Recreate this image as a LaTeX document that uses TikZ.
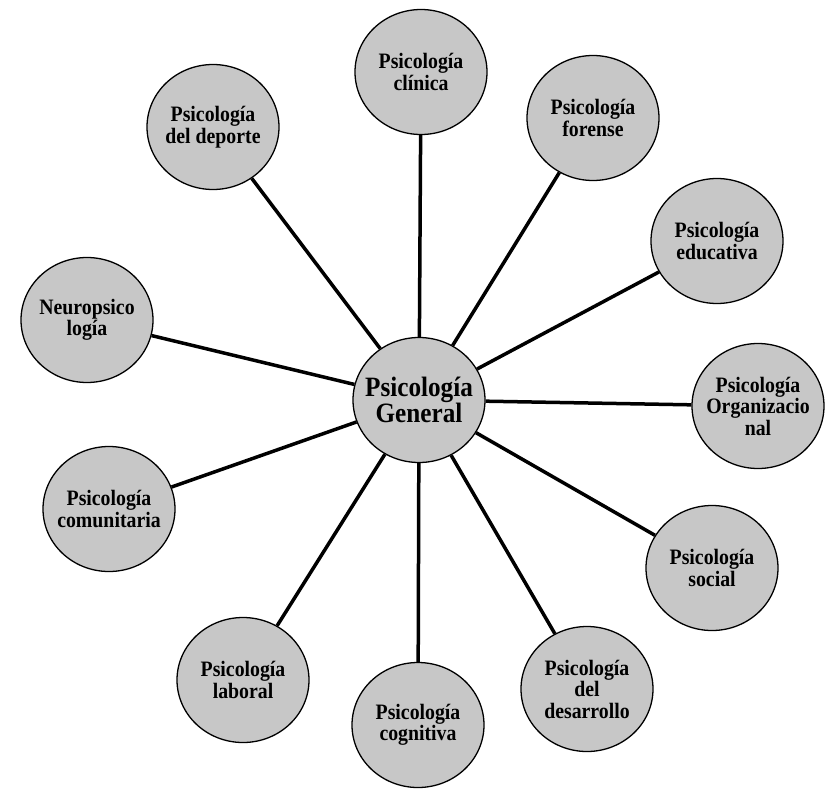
\documentclass[tikz,border=0pt]{standalone}
\usepackage{fontspec}
\setmainfont{Liberation Serif}[FakeStretch=0.9]
\usetikzlibrary{shapes.geometric}

\begin{document}
\begin{tikzpicture}[x=1pt, y=-1pt,
  rama/.style={ellipse, draw, line width=1.3pt, fill=black!22,
    minimum width=132pt, minimum height=125pt, inner sep=-15pt,
    align=center, font=\bfseries\fontsize{22}{21.5}\selectfont},
  centro/.style={rama, font=\bfseries\fontsize{28}{25}\selectfont},
  rayo/.style={line width=3.5pt}]
\useasboundingbox (0,0) rectangle (828,788);

\node[centro] (gen) at (419,400) {Psicología\\General};

\node[rama] (cli) at (421,72) {Psicología\\clínica};
\node[rama] (for) at (593,118) {Psicología\\forense};
\node[rama] (edu) at (717,241) {Psicología\\educativa};
\node[rama] (org) at (758,406) {Psicología\\Organizacio\\nal};
\node[rama] (soc) at (712,568) {Psicología\\social};
\node[rama] (des) at (587,689) {Psicología\\del\\desarrollo};
\node[rama] (cog) at (418,725) {Psicología\\cognitiva};
\node[rama] (lab) at (243,680) {Psicología\\laboral};
\node[rama] (com) at (109,509) {Psicología\\comunitaria};
\node[rama] (neu) at (87,320) {Neuropsico\\logía};
\node[rama] (dep) at (213,127) {Psicología\\del deporte};

\path[rayo]
  (gen) edge (cli)
  (gen) edge (for)
  (gen) edge (edu)
  (gen) edge (org)
  (gen) edge (soc)
  (gen) edge (des)
  (gen) edge (cog)
  (gen) edge (lab)
  (gen) edge (com)
  (gen) edge (neu)
  (gen) edge (dep);
\end{tikzpicture}
\end{document}
